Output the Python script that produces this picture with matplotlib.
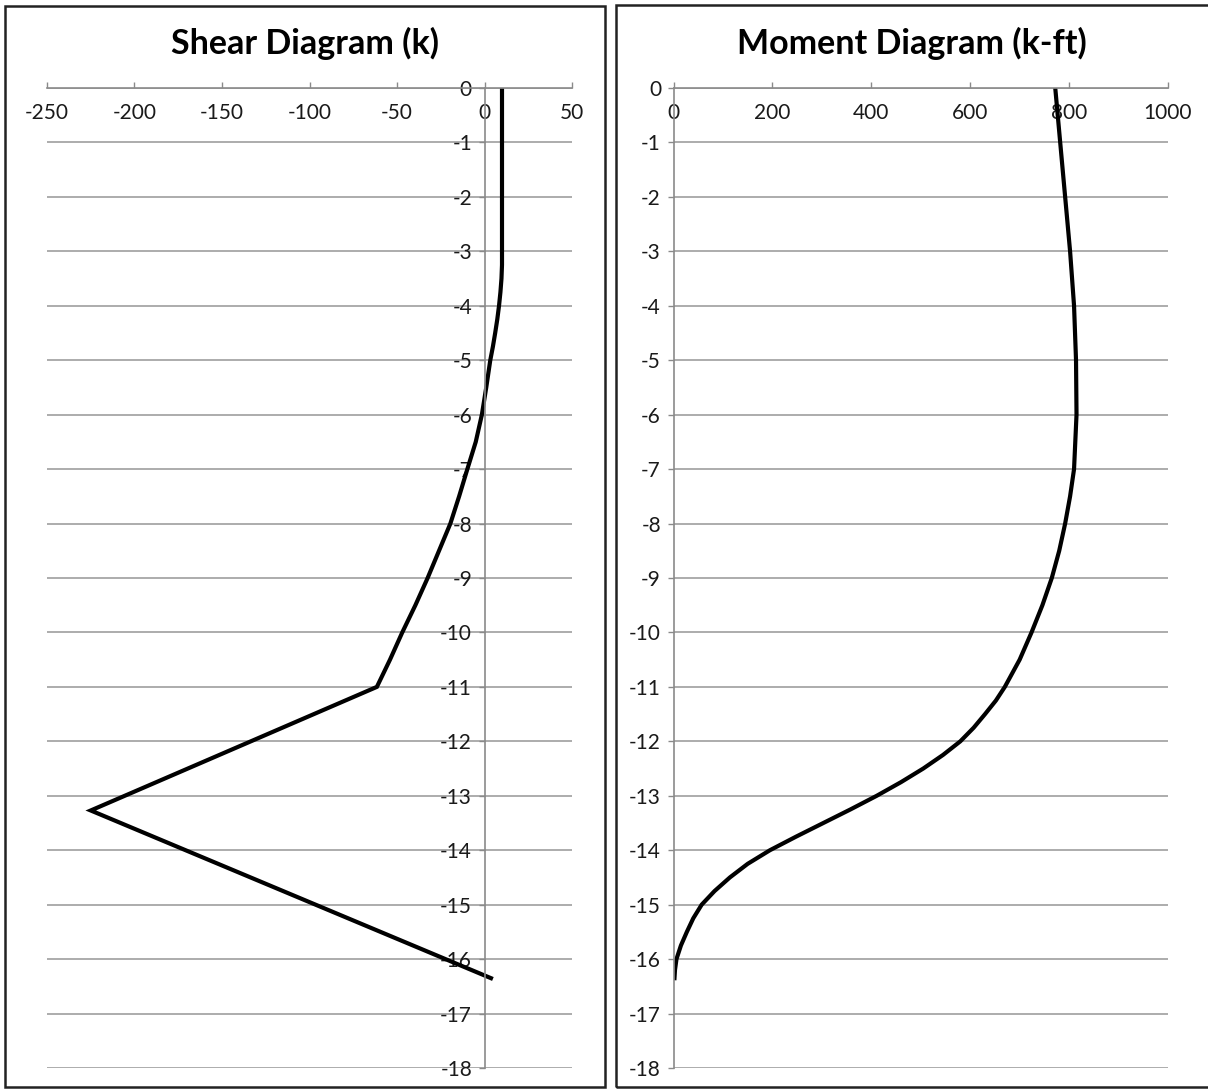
import matplotlib.pyplot as plt
import matplotlib.patches as patches

plt.rcParams['font.family'] = ['Lato', 'DejaVu Sans']
plt.rcParams['axes.unicode_minus'] = False

# depth (ft) for each chart
shear_depth = [0, -1, -2, -3, -3.25, -3.5, -3.75, -4, -4.25, -4.5, -4.75, -5, -5.5, -6,
               -6.5, -7, -7.5, -8, -8.5, -9, -9.5, -10, -10.5, -11, -13.27, -16.35]
shear_vals = [10, 10, 10, 10, 10, 9.7, 9.1, 8.3, 7.3, 6.1, 4.8, 3.3, 1.0, -1.5,
              -5, -9.8, -14.5, -19.5, -26, -32.5, -39.5, -47, -54, -61.5, -225, 3.7]

moment_depth = [0, -1, -2, -3, -4, -5, -6, -7, -7.5, -8, -8.5, -9, -9.5, -10, -10.5,
                -11, -11.25, -11.5, -11.75, -12, -12.25, -12.5, -12.75, -13, -13.25,
                -13.5, -13.75, -14, -14.25, -14.5, -14.75, -15, -15.25, -15.5, -15.75,
                -16, -16.2, -16.35]
moment_vals = [772, 782, 792, 802, 810, 814, 815, 810, 802, 792, 780, 765, 746, 724, 700,
               670, 652, 630, 607, 580, 545, 505, 460, 411, 358,
               303, 248, 195, 150, 114, 83, 57, 40, 27, 15,
               6, 3, 2]

shear_ticks = [-250, -200, -150, -100, -50, 0, 50]
moment_ticks = [0, 200, 400, 600, 800, 1000]
depth_ticks = list(range(0, -19, -1))

W, H = 1208, 1089
fig = plt.figure(figsize=(W / 100, H / 100), dpi=100)

axis_gray = '#8a8a8a'
grid_gray = '#a6a6a6'

# panel frames
fig.add_artist(patches.Rectangle((5 / W, 1 - 1087 / H), 600 / W, 1081 / H, fill=False,
                                 lw=1.8, ec='#222222', transform=fig.transFigure))
fig.add_artist(patches.Rectangle((616 / W, 1 - 1087 / H), 620 / W, 1082 / H, fill=False,
                                 lw=1.8, ec='#222222', transform=fig.transFigure))


def setup(ax, xlim, xticks):
    ax.set_xlim(xlim)
    ax.set_ylim(-18, 0)
    ax.set_xticks(xticks)
    ax.set_yticks(depth_ticks)
    ax.spines['right'].set_visible(False)
    ax.spines['bottom'].set_visible(False)
    ax.spines['left'].set_position(('data', 0))
    ax.spines['left'].set_color(axis_gray)
    ax.spines['top'].set_color(axis_gray)
    ax.spines['left'].set_linewidth(1.2)
    ax.spines['top'].set_linewidth(1.2)
    ax.xaxis.set_ticks_position('top')
    ax.tick_params(axis='x', direction='out', length=4, width=1, color=axis_gray,
                   pad=-29, labelsize=15, labelcolor='#1a1a1a')
    ax.tick_params(axis='y', direction='out', length=4, width=1, color=axis_gray,
                   pad=5, labelsize=15, labelcolor='#1a1a1a')
    ax.yaxis.grid(True, color=grid_gray, lw=1.3)
    ax.set_axisbelow(True)
    ax.patch.set_alpha(0)


ax1 = fig.add_axes([47 / W, 1 - 1068 / H, 525 / W, 980 / H])
setup(ax1, (-250, 50), shear_ticks)
ax1.plot(shear_vals, shear_depth, color='black', lw=3, solid_joinstyle='miter')

ax2 = fig.add_axes([673.5 / W, 1 - 1068 / H, 494.5 / W, 980 / H])
setup(ax2, (0, 1000), moment_ticks)
ax2.plot(moment_vals, moment_depth, color='black', lw=3, solid_joinstyle='round')

fig.text(305 / W, 1 - 43 / H, 'Shear Diagram (k)', ha='center', va='center',
         fontsize=24.5, fontweight='bold')
fig.text(912 / W, 1 - 43 / H, 'Moment Diagram (k-ft)', ha='center', va='center',
         fontsize=24.5, fontweight='bold')

fig.savefig('out.png', dpi=100)
